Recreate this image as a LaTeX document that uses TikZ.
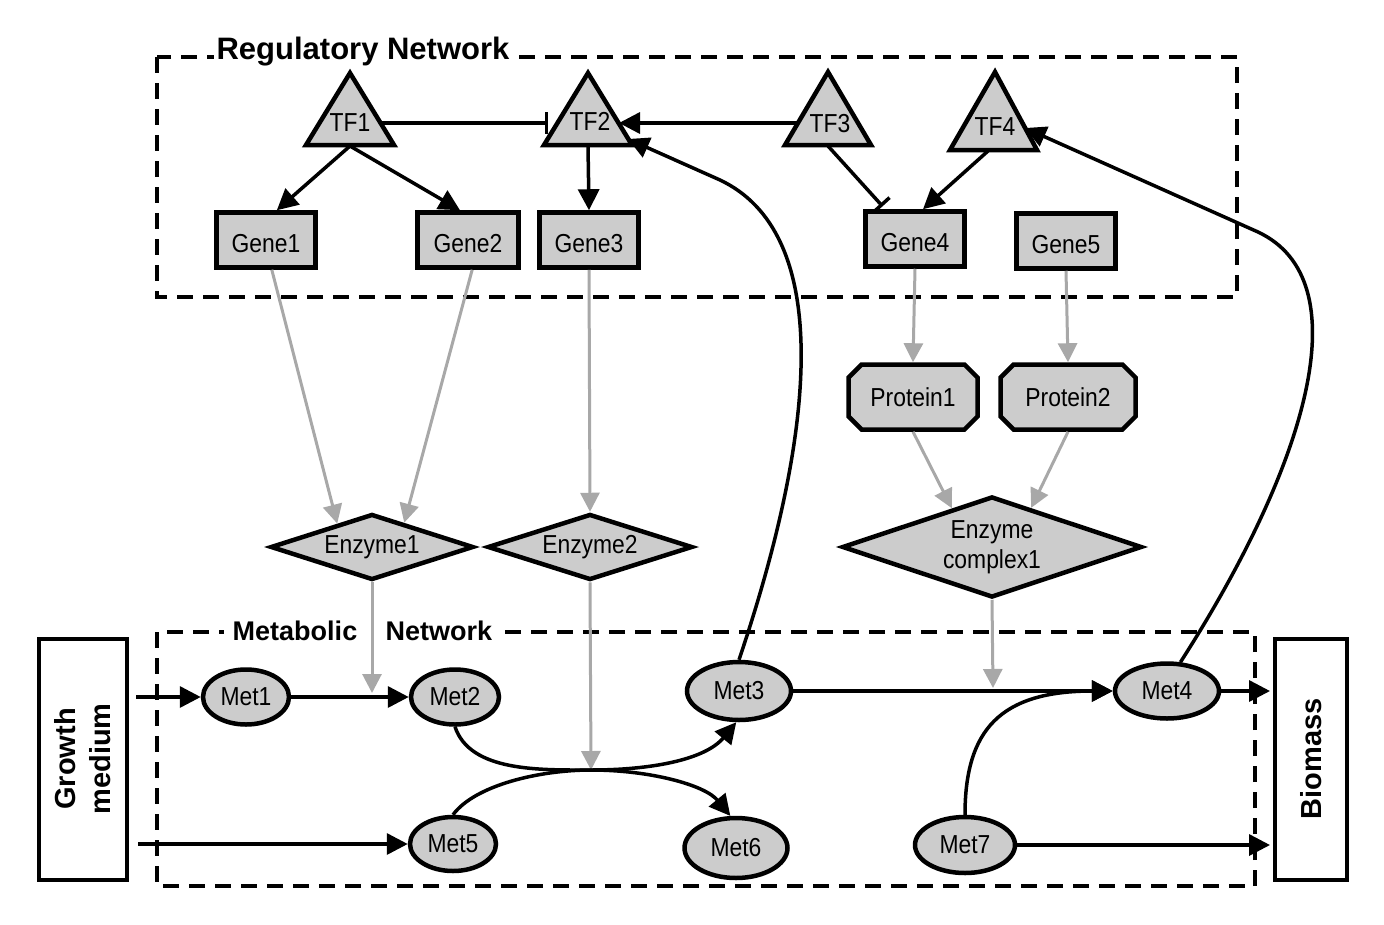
\documentclass[tikz,border=0pt]{standalone}
\usepackage{fontspec}
\setmainfont{Liberation Sans}[FakeStretch=0.88]
\newfontfamily\titlefont{Liberation Sans}
\usetikzlibrary{arrows.meta,shapes.geometric,shapes.misc}
\definecolor{nodegray}{HTML}{CCCCCC}
\definecolor{linkgray}{HTML}{A8A8A8}
\newcommand{\lowtext}[1]{\raisebox{0pt}[\dimexpr\height+8pt\relax][\depth]{#1}}
\begin{document}
\begin{tikzpicture}[x=1pt,y=-1pt,
  every node/.style={font=\fontsize{26}{30}\selectfont},
  tfshape/.style={draw, line width=4.5pt, fill=nodegray, line join=miter},
  tflabel/.style={inner sep=0pt},
  gene/.style={rectangle, draw, line width=4.5pt, fill=nodegray, minimum width=99pt, minimum height=55pt, inner sep=0pt},
  prot/.style={chamfered rectangle, chamfered rectangle xsep=18pt, chamfered rectangle angle=45, draw, line width=4.5pt, fill=nodegray, minimum width=129pt, minimum height=65pt, inner sep=0pt},
  enz/.style={diamond, shape aspect=3, draw, line width=4.5pt, fill=nodegray, inner sep=0pt},
  met/.style={ellipse, draw, line width=4.5pt, fill=nodegray, inner sep=0pt},
  ext/.style={rectangle, draw, line width=4pt, fill=white, inner sep=0pt, rotate=90, align=center, font=\titlefont\fontsize{29}{35}\selectfont\bfseries},
  group/.style={draw, line width=3.5pt, dash pattern=on 16pt off 10pt},
  act/.style={line width=3.5pt, -{Triangle[length=21pt,width=21pt]}},
  inh/.style={line width=3.5pt, -{Bar[width=22pt,line width=3.5pt]}},
  flow/.style={line width=3pt, draw=linkgray, -{Triangle[length=19pt,width=19pt]}},
]
\useasboundingbox (0,0) rectangle (1384,924);

% group frames
\draw[group] (157,57) rectangle (1237,297);
\draw[group] (157,632) rectangle (1255,886);
\node[fill=white, inner sep=3pt, font=\titlefont\fontsize{31}{36}\selectfont\bfseries] (RN) at (363,52) {Regulatory Network};
\fill[white] (224,620) rectangle (502,644);
\node[inner sep=0pt, font=\titlefont\fontsize{27}{32}\selectfont\bfseries] (MNa) at (295,631) {Metabolic};
\node[inner sep=0pt, font=\titlefont\fontsize{27}{32}\selectfont\bfseries] (MNb) at (439,631) {Network};

% external boxes
\node[ext, minimum width=241pt, minimum height=88pt] (GM) at (83,759) {Growth\\medium};
\node[ext, minimum width=241pt, minimum height=72pt] (BM) at (1311,759) {Biomass};

% transcription factors (triangles)
\draw[tfshape] (350,73) -- (394,145) -- (306,145) -- cycle;
\draw[tfshape] (588,73) -- (632,145) -- (544,145) -- cycle;
\draw[tfshape] (828,72) -- (871,145) -- (785,145) -- cycle;
\draw[tfshape] (995,72) -- (1037,150) -- (950,150) -- cycle;
\node[tflabel] (TF1) at (350,123) {TF1};
\node[tflabel] (TF2) at (590,121) {TF2};
\node[tflabel] (TF3) at (830,124) {TF3};
\node[tflabel] (TF4) at (995,127) {TF4};
\coordinate (TF1s) at (350,146);
\coordinate (TF1e) at (381,123);
\coordinate (TF2s) at (588,146);
\coordinate (TF2w) at (557,123);
\coordinate (TF2e) at (619,123);
\coordinate (TF2r) at (628,139);
\coordinate (TF3s) at (828,146);
\coordinate (TF3w) at (798,123);
\coordinate (TF4s) at (988,151);
\coordinate (TF4r) at (1025,128);

% genes
\node[gene] (G1) at (266,240) {\lowtext{Gene1}};
\node[gene, minimum width=101pt] (G2) at (468,240) {\lowtext{Gene2}};
\node[gene] (G3) at (589,240) {\lowtext{Gene3}};
\node[gene] (G4) at (915,239) {\lowtext{Gene4}};
\node[gene] (G5) at (1066,241) {\lowtext{Gene5}};

% proteins
\node[prot] (P1) at (913,397) {Protein1};
\node[prot, minimum width=135pt] (P2) at (1068,397) {Protein2};

% enzymes
\node[enz, minimum width=203pt, minimum height=66pt] (E1) at (372,547) {Enzyme1};
\node[enz, minimum width=205pt, minimum height=66pt] (E2) at (590,547) {Enzyme2};
\node[enz, minimum width=300pt, minimum height=101pt, align=center] (EC) at (992,547) {Enzyme\\complex1};

% metabolites
\node[met, minimum width=86pt, minimum height=55pt] (M1) at (246,697) {Met1};
\node[met, minimum width=88pt, minimum height=55pt] (M2) at (455,697) {Met2};
\node[met, minimum width=104pt, minimum height=58pt] (M3) at (739,691) {Met3};
\node[met, minimum width=104pt, minimum height=55pt] (M4) at (1167,691) {Met4};
\node[met, minimum width=86pt, minimum height=54pt] (M5) at (453,844) {Met5};
\node[met, minimum width=103pt, minimum height=60pt] (M6) at (736,848) {Met6};
\node[met, minimum width=100pt, minimum height=56pt] (M7) at (965,845) {Met7};

% free ends
\coordinate (gm1) at (136,697);
\coordinate (gm5) at (138,844);
\coordinate (bm4) at (1270,691);
\coordinate (bm7) at (1270,845);
\coordinate (e1t) at (372,693);
\coordinate (X) at (591,770);
\coordinate (ect) at (993,688);

% regulatory edges
\draw[inh, shorten >=9pt] (TF1e) -- (TF2w);
\draw[act] (TF3w) -- (TF2e);
\draw[act] (TF1s) -- (G1.70);
\draw[act] (TF1s) -- (G2.105);
\draw[act] (TF2s) -- (G3.north);
\draw[inh, shorten >=4pt] (TF3s) -- (G4.135);
\draw[act] (TF4s) -- (G4.75);
\draw[act] (M3.north) .. controls (820,420) and (830,232) .. (720,180) -- (TF2r);
\draw[act] (M4.65) .. controls (1310,460) and (1360,280) .. (1258,232) -- (TF4r);

% expression / catalysis edges
\draw[flow] (G1.-79) -- (E1.146);
\draw[flow] (G2.-82) -- (E1.37);
\draw[flow] (G3.south) -- (E2.north);
\draw[flow] (G4.south) -- (P1.north);
\draw[flow] (G5.south) -- (P2.north);
\draw[flow] (P1.south) -- (EC.136);
\draw[flow] (P2.south) -- (EC.45);
\draw[flow] (E1.south) -- (e1t);
\draw[flow] (E2.south) -- (X);
\draw[flow] (EC.south) -- (ect);

% metabolic edges
\draw[act] (gm1) -- (M1.west);
\draw[act] (gm5) -- (M5.west);
\draw[act] (M1.east) -- (M2.west);
\draw[act] (M3.east) -- (M4.west);
\draw[act] (M7.north) .. controls (965,730) and (1000,691) .. (M4.west);
\draw[act] (M4.east) -- (bm4);
\draw[act] (M7.east) -- (bm7);
\draw[act] (M2.south) .. controls (470,772) and (540,770) .. (X) .. controls (650,770) and (705,760) .. (M3.-95);
\draw[act] (M5.north) .. controls (475,785) and (540,770) .. (X) .. controls (650,770) and (705,785) .. (M6.100);
\end{tikzpicture}
\end{document}
